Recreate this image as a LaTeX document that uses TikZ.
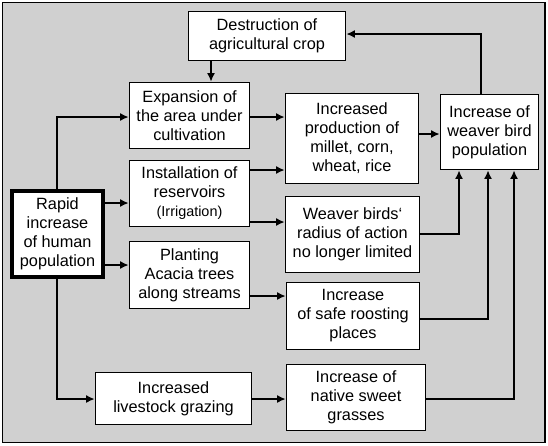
\documentclass[tikz,border=0pt]{standalone}
\usepackage{fontspec}
\setmainfont{Liberation Sans}
\usetikzlibrary{arrows.meta}
\definecolor{bggray}{RGB}{208,208,208}
\begin{document}
\begin{tikzpicture}[x=1pt,y=-1pt,
  box/.style={draw=black,line width=1.9pt,fill=white,align=center,inner sep=0pt,
    font=\fontsize{16.3}{19}\selectfont},
  thickbox/.style={box,line width=3.8pt},
  arr/.style={line width=1.3pt,-{Latex[length=8.5pt,width=8pt]}}]
\useasboundingbox (0,0) rectangle (548,445);
\draw[fill=bggray,line width=1.5pt] (2.5,2.5) rectangle (545,442.5);

\node[box,minimum width=157pt,minimum height=49pt] (destr) at (267,36) {Destruction of\\agricultural crop};
\node[box,minimum width=120pt,minimum height=66pt] (expan) at (189.5,115.5) {Expansion of\\the area under\\cultivation};
\node[box,minimum width=133pt,minimum height=90pt] (prod) at (352,138.5) {Increased\\production of\\millet, corn,\\wheat, rice};
\node[box,minimum width=98pt,minimum height=75pt] (weaver) at (489.5,132) {Increase of\\weaver bird\\population};
\node[box,minimum width=120pt,minimum height=66pt] (inst) at (189.5,193.5) {Installation of\\reservoirs\\{\fontsize{14.4}{17}\selectfont (Irrigation)}};
\node[thickbox,minimum width=91pt,minimum height=86pt] (rapid) at (57.5,234) {Rapid\\increase\\of human\\population};
\node[box,minimum width=134pt,minimum height=76pt] (radius) at (352.5,234.5) {Weaver birds‘\\radius of action\\no longer limited};
\node[box,minimum width=120pt,minimum height=67pt] (plant) at (189.5,275) {Planting\\Acacia trees\\along streams};
\node[box,minimum width=133pt,minimum height=67pt] (roost) at (353,316) {Increase\\of safe roosting\\places};
\node[box,minimum width=156pt,minimum height=52pt] (live) at (173.5,398.5) {Increased\\livestock grazing};
\node[box,minimum width=139pt,minimum height=66pt] (grass) at (356,397.5) {Increase of\\native sweet\\grasses};

\draw[arr] (destr.south -| 211,0) -- (expan.north -| 211,0);
\draw[arr] (weaver.north -| 481,0) |- (destr.east |- 0,34);
\draw[arr] (expan.east |- 0,117) -- (prod.west |- 0,117);
\draw[arr] (prod.east |- 0,134) -- (weaver.west |- 0,134);
\draw[arr] (rapid.north -| 57,0) |- (expan.west |- 0,117);
\draw[arr] (rapid.south -| 57,0) |- (live.west |- 0,399);
\draw[arr] (rapid.east |- 0,203) -- (inst.west |- 0,203);
\draw[arr] (rapid.east |- 0,265) -- (plant.west |- 0,265);
\draw[arr] (inst.east |- 0,170) -- (prod.west |- 0,170);
\draw[arr] (inst.east |- 0,222) -- (radius.west |- 0,222);
\draw[arr] (radius.east |- 0,234) -| (weaver.south -| 459,0);
\draw[arr] (plant.east |- 0,296) -- (roost.west |- 0,296);
\draw[arr] (roost.east |- 0,319) -| (weaver.south -| 488,0);
\draw[arr] (live.east |- 0,399) -- (grass.west |- 0,399);
\draw[arr] (grass.east |- 0,399) -| (weaver.south -| 514,0);
\end{tikzpicture}
\end{document}
